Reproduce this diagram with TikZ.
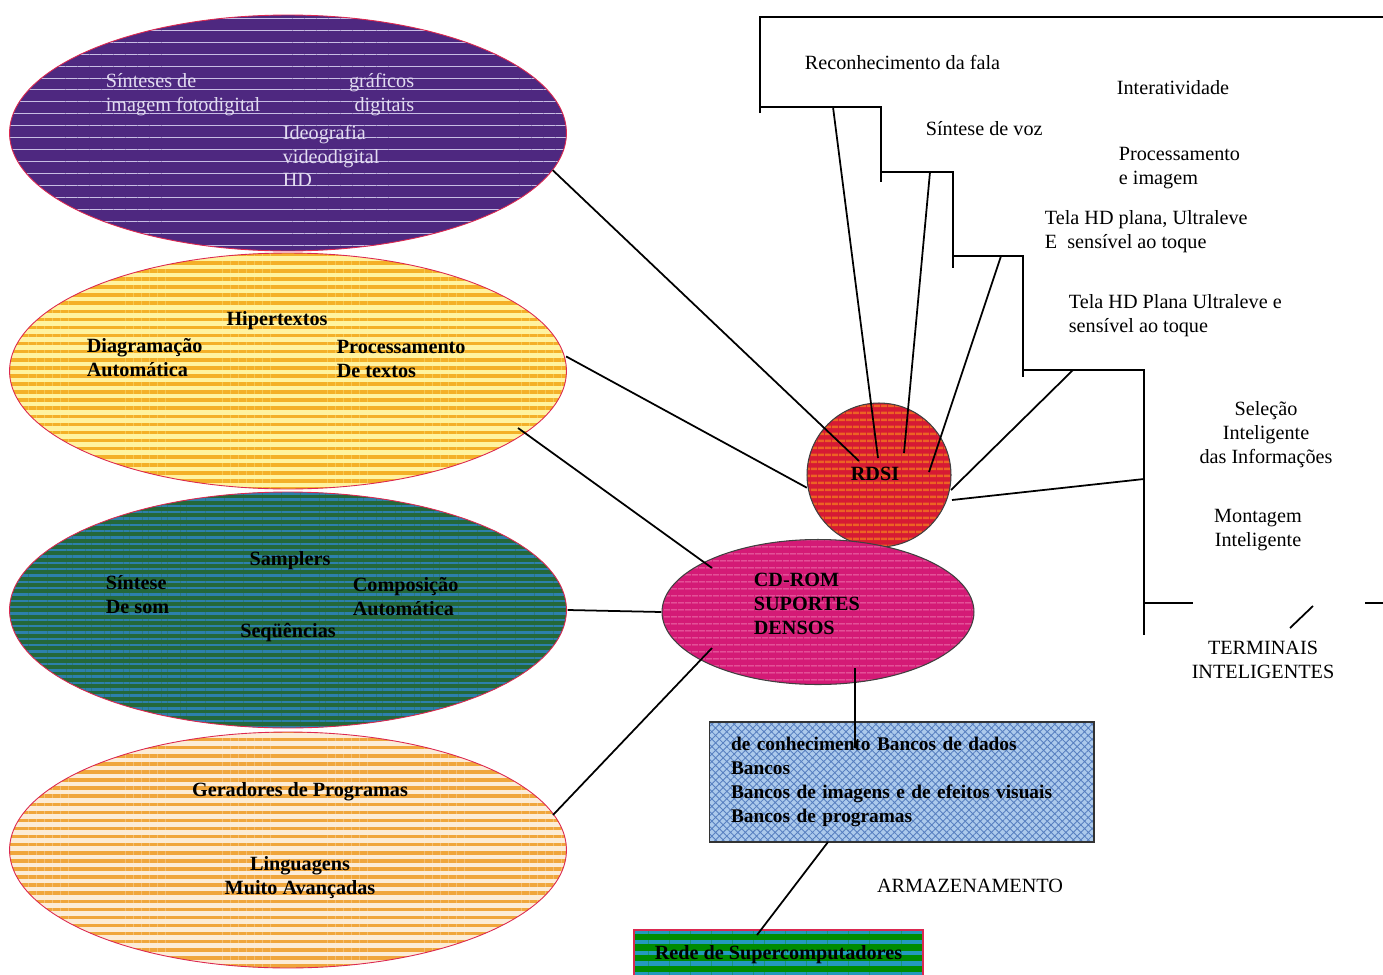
\documentclass[tikz,border=0pt]{standalone}
\usepackage{fontspec}
\setmainfont{Liberation Serif}
\usetikzlibrary{shapes.geometric,patterns.meta,positioning}

\definecolor{roxo}{RGB}{78,40,128}
\definecolor{lilas}{RGB}{200,190,228}
\definecolor{amarelo}{RGB}{255,243,160}
\definecolor{laranja}{RGB}{244,176,40}
\definecolor{verde}{RGB}{36,104,58}
\definecolor{azulverde}{RGB}{44,128,172}
\definecolor{pessego}{RGB}{252,236,214}
\definecolor{abobora}{RGB}{240,166,60}
\definecolor{vermelho}{RGB}{214,26,52}
\definecolor{tijolo}{RGB}{236,98,36}
\definecolor{magenta}{RGB}{212,26,118}
\definecolor{rosa}{RGB}{236,110,170}
\definecolor{celeste}{RGB}{172,202,236}
\definecolor{anil}{RGB}{88,128,192}
\definecolor{borda}{RGB}{220,40,80}
\definecolor{clarinho}{RGB}{226,220,240}

\tikzset{
  listras/.style n args={4}{preaction={fill=#1},
    pattern={Lines[angle=0,distance=#3,line width=#4]}, pattern color=#2},
}

\begin{document}
\begin{tikzpicture}[x=0.02cm,y=-0.02cm,line width=1pt,
    font=\fontsize{11.5}{13.6}\selectfont]
  \tikzstyle{bolha}=[ellipse,draw=borda,line width=0.5pt,inner sep=0pt,
    minimum width=11.14cm,minimum height=4.72cm]
  \tikzstyle{texto}=[inner sep=0pt,align=left,anchor=west]
  \tikzstyle{negrito}=[inner sep=0pt,align=center,font=\fontsize{11.5}{13.6}\selectfont\bfseries]

  \useasboundingbox (0,0) rectangle (1383,974);

  \node[bolha,listras={roxo}{lilas}{6.8pt}{0.5pt}] (imagem) at (288,133) {};
  \node[bolha,listras={amarelo}{laranja}{4.6pt}{2pt}] (texto) at (288,371) {};
  \node[bolha,listras={verde}{azulverde}{3.6pt}{1.4pt}] (som) at (288,610) {};
  \node[bolha,listras={pessego}{abobora}{4.6pt}{2pt}] (programa) at (288,850) {};

  \node[circle,draw=black!75,line width=0.6pt,minimum size=2.88cm,
    listras={vermelho}{tijolo}{4pt}{1.5pt}] (rdsi) at (879,475) {};
  \node[ellipse,draw=black!75,line width=0.6pt,minimum width=6.24cm,minimum height=2.9cm,
    listras={magenta}{rosa}{4pt}{0.7pt}] (cdrom) at (818,612) {};

  \node[draw=black!80,line width=0.6pt,minimum height=2.4cm,text width=6.82cm,
    inner xsep=0.44cm,align=left,preaction={fill=celeste},
    pattern={Hatch[angle=45,distance=3pt,line width=0.5pt]},pattern color=anil,
    font=\fontsize{11}{13.6}\selectfont\bfseries] (banco) at (901.5,782)
    {de conhecimento Bancos de dados\\Bancos\\Bancos de imagens e de efeitos visuais\\Bancos de programas};
  \node[draw=borda,line width=0.8pt,minimum width=5.78cm,minimum height=1cm,
    listras={green!55!black}{azulverde!80!cyan}{6pt}{2.4pt},
    font=\fontsize{11.5}{13.6}\selectfont\bfseries] (rede) at (778.5,955)
    {Rede de Supercomputadores};

  % textos das bolhas
  \node[texto,text=clarinho] (t1) at (105,95) {Sínteses de\\imagem fotodigital};
  \node[texto,text=clarinho,align=right,anchor=east] (t2) at (415,95) {gráficos\\digitais};
  \node[texto,text=clarinho] (t3) at (282,156) {Ideografia\\videodigital\\HD};

  \node[negrito] (t4) at (277,321) {Hipertextos};
  \node[negrito,align=left,anchor=west] (t5) at (86,358) {Diagramação\\Automática};
  \node[negrito,align=left,anchor=west] (t6) at (336,359) {Processamento\\De textos};

  \node[negrito] (t7) at (290,561) {Samplers};
  \node[negrito,align=left,anchor=west] (t8) at (105,595) {Síntese\\De som};
  \node[negrito,align=left,anchor=west] (t9) at (352,597) {Composição\\Automática};
  \node[negrito] (t10) at (288,633) {Seqüências};

  \node[negrito] (t11) at (300,792) {Geradores de Programas};
  \node[negrito] (t12) at (300,878) {Linguagens\\Muito Avançadas};

  \node[negrito] (t13) at (875,474) {RDSI};
  \node[negrito,align=left,anchor=west] (t14) at (753,604) {CD-ROM\\SUPORTES\\DENSOS};

  % terminais
  \node[texto] (fala) at (804,62) {Reconhecimento da fala};
  \node[texto] (inter) at (1116,88) {Interatividade};
  \node[texto] (voz) at (925,129) {Síntese de voz};
  \node[texto] (proc) at (1118,168) {Processamento\\e imagem};
  \node[texto] (tela1) at (1044,232) {Tela HD plana, Ultraleve\\E\ \ sensível ao toque};
  \node[texto] (tela2) at (1068,316) {Tela HD Plana Ultraleve e\\sensível ao toque};
  \node[texto,align=center,anchor=center] (selecao) at (1266,435) {Seleção\\Inteligente\\das Informações};
  \node[texto,align=center,anchor=center] (montagem) at (1258,530) {Montagem\\Inteligente};
  \node[texto,align=center,anchor=center] (terminais) at (1263,660) {TERMINAIS\\INTELIGENTES};
  \node[texto,anchor=center] (armaz) at (970,886) {ARMAZENAMENTO};

  % escada
  \draw (760,113) -- (760,17) -- (1383,17);
  \draw (760,107) -- (881,107) -- (881,182);
  \draw (881,172) -- (953,172) -- (953,268);
  \draw (953,256) -- (1023,256) -- (1023,377);
  \draw (1023,370) -- (1144,370) -- (1144,635);
  \draw (1144,603) -- (1193,603);
  \draw (1365,603) -- (1383,603);
  \draw (1313,606) -- (1290,628);

  \coordinate (s1) at (833,107);
  \coordinate (s2) at (930,172);
  \coordinate (s3) at (1001,256);
  \coordinate (s4) at (1073,370);
  \coordinate (s5) at (1144,479);
  \coordinate (r1) at (859,461);
  \coordinate (r2) at (878,458);
  \coordinate (r3) at (904,453);
  \coordinate (r4) at (929,472);
  \coordinate (r5) at (951,490);
  \coordinate (r6) at (952,500);
  \coordinate (y1) at (518,428);
  \coordinate (p1) at (553,815);
  \coordinate (c1) at (712,568);
  \coordinate (c2) at (712,648);
  \coordinate (c3) at (855,668);
  \coordinate (b1) at (855,748);
  \coordinate (b2) at (828,842);
  \coordinate (n1) at (757,935);

  \path[draw,line width=1pt]
    (imagem.-8) edge (r1)
    (texto.3) edge (rdsi.190)
    (y1) edge (c1)
    (som.east) edge (cdrom.west)
    (p1) edge (c2)
    (s1) edge (r2)
    (s2) edge (r3)
    (s3) edge (r4)
    (s4) edge (r5)
    (s5) edge (r6)
    (c3) edge (b1)
    (b2) edge (n1);
\end{tikzpicture}
\end{document}
